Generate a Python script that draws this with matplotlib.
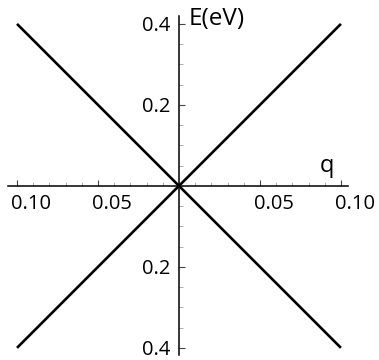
import numpy as np
import matplotlib.pyplot as plt
from matplotlib import transforms

plt.rcParams['font.family'] = ['Open Sans', 'DejaVu Sans']

# dispersion: two crossing straight bands through the Dirac point
q = [-0.10, 0.0, 0.10]
E_up = [-0.40, 0.0, 0.40]
E_down = [0.40, 0.0, -0.40]

xticks_major = [-0.10, -0.05, 0.05, 0.10]
xtick_labels = ["0.10", "0.05", "0.05", "0.10"]
yticks_major = [-0.4, -0.2, 0.2, 0.4]
ytick_labels = ["0.4", "0.2", "0.2", "0.4"]

fig = plt.figure(figsize=(3.79, 3.60), dpi=100)
ax = fig.add_axes([0, 0, 1, 1])
ax.set_xlim(-0.1105, 0.1235)
ax.set_ylim(-0.430, 0.459)

ax.plot(q, E_up, color='black', lw=1.9, solid_capstyle='butt', zorder=3)
ax.plot(q, E_down, color='black', lw=1.9, solid_capstyle='butt', zorder=3)

for s in ['top', 'right']:
    ax.spines[s].set_visible(False)
ax.spines['bottom'].set_position(('data', 0))
ax.spines['left'].set_position(('data', 0))
ax.spines['bottom'].set_bounds(-0.1056, 0.1043)
ax.spines['left'].set_bounds(-0.417, 0.42)
for s in ['bottom', 'left']:
    ax.spines[s].set_linewidth(1.1)
ax.patch.set_alpha(0)

ax.set_xticks(xticks_major)
ax.set_xticks(np.arange(-0.10, 0.101, 0.01), minor=True)
ax.set_xticklabels([])
ax.set_yticks(yticks_major)
ax.set_yticks(np.arange(-0.40, 0.401, 0.05), minor=True)
ax.set_yticklabels(ytick_labels, fontsize=14.5)
ax.tick_params(which='major', direction='in', length=4, width=0.8, color='#444444', pad=6)
ax.tick_params(which='minor', direction='in', length=3, width=0.6, color='#999999')

# x labels sit a little to the right of their ticks
for xv, lab in zip(xticks_major, xtick_labels):
    tr = transforms.offset_copy(ax.transData, fig=fig, x=14, y=-8, units='dots')
    ax.text(xv, 0, lab, transform=tr, ha='center', va='top', fontsize=14.5)

tr = transforms.offset_copy(ax.transData, fig=fig, x=10, y=0, units='dots')
ax.text(0, 0.412, "E(eV)", transform=tr, ha='left', va='center', fontsize=17.5)
ax.text(0.0914, 0.034, "q", ha='center', va='baseline', fontsize=17)

fig.savefig("out.png", dpi=100)
